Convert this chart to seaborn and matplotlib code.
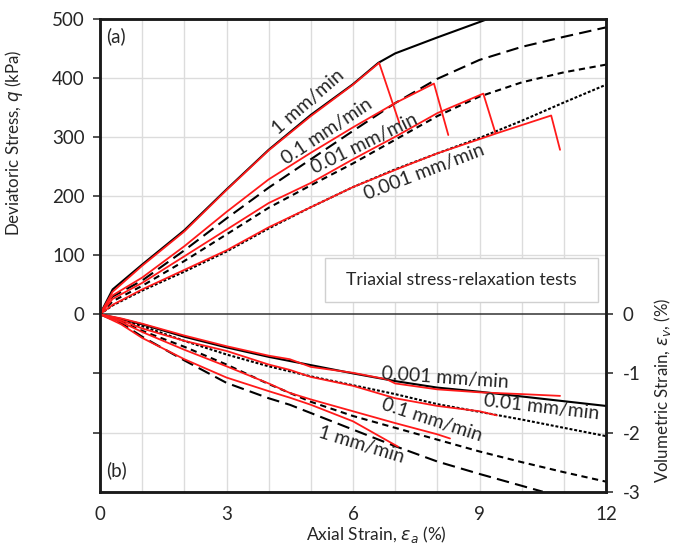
import numpy as np
import pandas as pd
import matplotlib
matplotlib.use("Agg")
import matplotlib.pyplot as plt
import seaborn as sns
from matplotlib.patches import Rectangle

# ---------------- data ----------------
# (a) deviatoric stress q (kPa) vs axial strain (%)
a_1_x   = [0, 0.3, 1, 2, 3, 4, 5, 6, 6.6, 7, 8, 9, 9.3]
a_1_q   = [0, 42, 84, 142, 211, 278, 337, 389, 425, 441, 468, 494, 502]
a_1r_x  = [0, 0.3, 1, 2, 3, 4, 5, 6, 6.62, 7.1]
a_1r_q  = [0, 38, 82, 140, 210, 277, 335, 388, 425, 323]

a_01_x  = [0, 0.3, 1, 2, 3, 4, 5, 6, 7, 8, 9, 10, 11, 12]
a_01_q  = [0, 30, 57, 108, 162, 214, 262, 310, 357, 398, 430, 452, 469, 485]
a_01r_x = [0, 0.3, 1, 2, 3, 4, 5, 6, 7, 7.92, 8.26]
a_01r_q = [0, 32, 62, 115, 173, 228, 273, 316, 357, 390, 303]

a_001_x  = [0, 0.3, 1, 2, 3, 4, 5, 6, 7, 8, 9, 10, 11, 12]
a_001_q  = [0, 22, 48, 90, 135, 180, 218, 255, 295, 335, 368, 392, 409, 422]
a_001r_x = [0, 0.3, 1, 2, 3, 4, 5, 6, 7, 8, 9.09, 9.38]
a_001r_q = [0, 26, 53, 98, 143, 188, 222, 262, 300, 340, 373, 306]

a_0001_x  = [0, 0.3, 1, 2, 3, 4, 5, 6, 7, 8, 9, 10, 11, 12]
a_0001_q  = [0, 15, 40, 72, 106, 145, 181, 215, 245, 272, 298, 327, 358, 388]
a_0001r_x = [0, 0.3, 1, 2, 3, 4, 5, 6, 7, 8, 9, 9.41, 10.7, 10.91]
a_0001r_q = [0, 16, 42, 75, 108, 147, 181, 215, 244, 272, 296, 306, 336, 278]

# (b) volumetric strain (%) vs axial strain (%)
b_0001_x  = [0, 0.5, 1, 2, 3, 4, 5, 6, 7, 8, 9, 10, 11, 12]
b_0001_v  = [0, -0.08, -0.17, -0.38, -0.56, -0.72, -0.86, -1.0, -1.13, -1.24, -1.31, -1.39, -1.47, -1.55]
b_0001r_x = [0, 0.5, 1, 2, 3, 4, 4.5, 5, 6, 6.8, 7, 8, 9, 10, 10.91]
b_0001r_v = [0, -0.07, -0.16, -0.36, -0.54, -0.7, -0.76, -0.89, -0.99, -1.1, -1.17, -1.27, -1.32, -1.35, -1.38]

b_001_x  = [0, 0.5, 1, 2, 3, 4, 5, 6, 7, 8, 9, 10, 11, 12]
b_001_v  = [0, -0.1, -0.2, -0.45, -0.68, -0.88, -1.05, -1.2, -1.35, -1.52, -1.65, -1.78, -1.92, -2.06]
b_001r_x = [0, 0.5, 1, 2, 3, 4, 4.5, 5, 6, 7, 8, 9, 9.41]
b_001r_v = [0, -0.1, -0.24, -0.45, -0.62, -0.85, -0.94, -1.06, -1.21, -1.42, -1.55, -1.64, -1.71]

b_01_x  = [0, 0.5, 1, 2, 3, 4, 5, 6, 7, 8, 9, 10, 11, 12]
b_01_v  = [0, -0.12, -0.28, -0.55, -0.85, -1.18, -1.48, -1.72, -1.92, -2.12, -2.32, -2.5, -2.67, -2.83]
b_01r_x = [0, 0.5, 1, 2, 3, 4, 4.5, 5, 6, 7, 8, 8.3]
b_01r_v = [0, -0.13, -0.3, -0.6, -0.88, -1.17, -1.33, -1.44, -1.64, -1.84, -2.03, -2.1]

b_1_x  = [0, 0.5, 1, 2, 3, 4, 4.5, 5, 6, 7, 8, 9, 10, 10.5]
b_1_v  = [0, -0.15, -0.38, -0.78, -1.16, -1.42, -1.53, -1.67, -1.95, -2.23, -2.49, -2.7, -2.9, -3.0]
b_1r_x = [0, 0.5, 1, 2, 3, 4, 4.5, 5, 6, 7.07]
b_1r_v = [0, -0.17, -0.4, -0.76, -1.07, -1.3, -1.41, -1.53, -1.81, -2.24]

rate_labels = ["1 mm/min", "0.1 mm/min", "0.01 mm/min", "0.001 mm/min"]
x_tick_vals = [0, 3, 6, 9, 12]
q_tick_vals = [0, 100, 200, 300, 400, 500]
v_tick_vals = [0, -1, -2, -3]

# ---------------- style ----------------
sns.set_theme(style="white")
plt.rcParams["font.family"] = ["Lato", "DejaVu Sans"]
plt.rcParams["mathtext.fontset"] = "dejavusans"
TXT = "#262626"

fig = plt.figure(figsize=(6.76, 5.47), dpi=100)
ax = fig.add_axes([100/676, 1-491.7/547, 506/676, (491.7-18.5)/547])
ax2 = ax.twinx()

ax.set_xlim(0, 12)
ax.set_ylim(-300, 500)
ax2.set_ylim(-3, 5)

# grid
for v in np.arange(1, 12):
    ax.axvline(v, color="#dcdcdc", lw=1.0, zorder=0)
for h in [-200, -100, 100, 200, 300, 400]:
    ax.axhline(h, color="#dcdcdc", lw=1.0, zorder=0)
ax.axhline(0, color="#333333", lw=1.1, zorder=1)

RED = "#ff1a1a"
LONG = (0, (6, 3))
MED = (0, (3, 2.2))
DOT = (0, (1.4, 0.9))

def line(axis, xs, ys, color, ls, lw):
    sns.lineplot(x=xs, y=ys, ax=axis, color=color, linestyle=ls, lw=lw,
                 estimator=None, sort=False, legend=False)

# (a)
line(ax, a_1_x, a_1_q, "black", "-", 1.5)
line(ax, a_01_x, a_01_q, "black", LONG, 1.5)
line(ax, a_001_x, a_001_q, "black", MED, 1.5)
line(ax, a_0001_x, a_0001_q, "black", DOT, 1.5)
for xs, ys in [(a_1r_x, a_1r_q), (a_01r_x, a_01r_q), (a_001r_x, a_001r_q), (a_0001r_x, a_0001r_q)]:
    line(ax, xs, ys, RED, "-", 1.3)

# (b)
line(ax2, b_0001_x, b_0001_v, "black", "-", 1.5)
line(ax2, b_001_x, b_001_v, "black", DOT, 1.5)
line(ax2, b_01_x, b_01_v, "black", MED, 1.5)
line(ax2, b_1_x, b_1_v, "black", LONG, 1.5)
for xs, ys in [(b_0001r_x, b_0001r_v), (b_001r_x, b_001r_v), (b_01r_x, b_01r_v), (b_1r_x, b_1r_v)]:
    line(ax2, xs, ys, RED, "-", 1.3)

# curve labels
FS_L = 14
kw = dict(ha="center", va="center", fontsize=FS_L, color=TXT, rotation_mode="anchor")
ax.text(4.93, 359, rate_labels[0], rotation=41, **kw)
ax.text(5.38, 309, rate_labels[1], rotation=33.7, **kw)
ax.text(6.26, 288, rate_labels[2], rotation=26, **kw)
ax.text(7.69, 240, rate_labels[3], rotation=21, **kw)
ax2.text(8.18, -1.07, rate_labels[3], rotation=-4, **kw)
ax2.text(10.46, -1.58, rate_labels[2], rotation=-6.6, **kw)
ax2.text(7.87, -1.78, rate_labels[1], rotation=-18, **kw)
ax2.text(6.2, -2.2, rate_labels[0], rotation=-17, **kw)

ax.text(0.032, 0.963, "(a)", transform=ax.transAxes, ha="center", va="center", fontsize=13.5, color=TXT)
ax.text(0.032, 0.046, "(b)", transform=ax.transAxes, ha="center", va="center", fontsize=13.5, color=TXT)

ax.add_patch(Rectangle((0.445, 0.401), 0.539, 0.093, transform=ax.transAxes,
                       facecolor="white", edgecolor="#d0d0d0", lw=1.0, zorder=3))
ax.text(0.7145, 0.4475, "Triaxial stress-relaxation tests", transform=ax.transAxes,
        ha="center", va="center", fontsize=12.7, color=TXT, zorder=4)

# ticks
ax.set_xticks(x_tick_vals)
ax.set_xticklabels([str(v) for v in x_tick_vals])
ax.set_xticks(np.arange(0, 12.01, 0.6), minor=True)
ax.set_yticks([-200, -100] + q_tick_vals)
ax.set_yticklabels(["", ""] + [str(v) for v in q_tick_vals])
ax2.set_yticks(v_tick_vals)
ax2.set_yticklabels([str(v) for v in v_tick_vals])

ax.tick_params(axis="x", which="major", direction="out", length=5, width=1.2, colors="#333333",
               labelsize=13.5, labelcolor=TXT, pad=5)
ax.tick_params(axis="x", which="minor", direction="out", length=4, width=1.0, colors="#333333")
ax.tick_params(axis="y", direction="out", length=5, width=1.2, colors="#333333",
               labelsize=13.5, labelcolor=TXT, pad=6)
ax2.tick_params(axis="y", direction="out", length=5, width=1.2, colors="#333333",
                labelsize=13.5, labelcolor=TXT, pad=7)

for a in (ax, ax2):
    for s in a.spines.values():
        s.set_color("#1a1a1a")
        s.set_linewidth(1.8)

ax.set_xlabel(r"Axial Strain, $\varepsilon_a$ (%)", fontsize=12.5, color=TXT)
ax.xaxis.set_label_coords(0.547, -0.068)
ax.set_ylabel(r"Deviatoric Stress, $q$ (kPa)", fontsize=12.2, color=TXT)
ax.yaxis.set_label_coords(-0.148, 0.738)
ax2.set_ylabel(r"Volumetric Strain, $\varepsilon_v$, (%)", fontsize=12.2, color=TXT, rotation=90)
ax2.yaxis.set_label_coords(1.09, 0.215)

fig.savefig("out.png", dpi=100)
